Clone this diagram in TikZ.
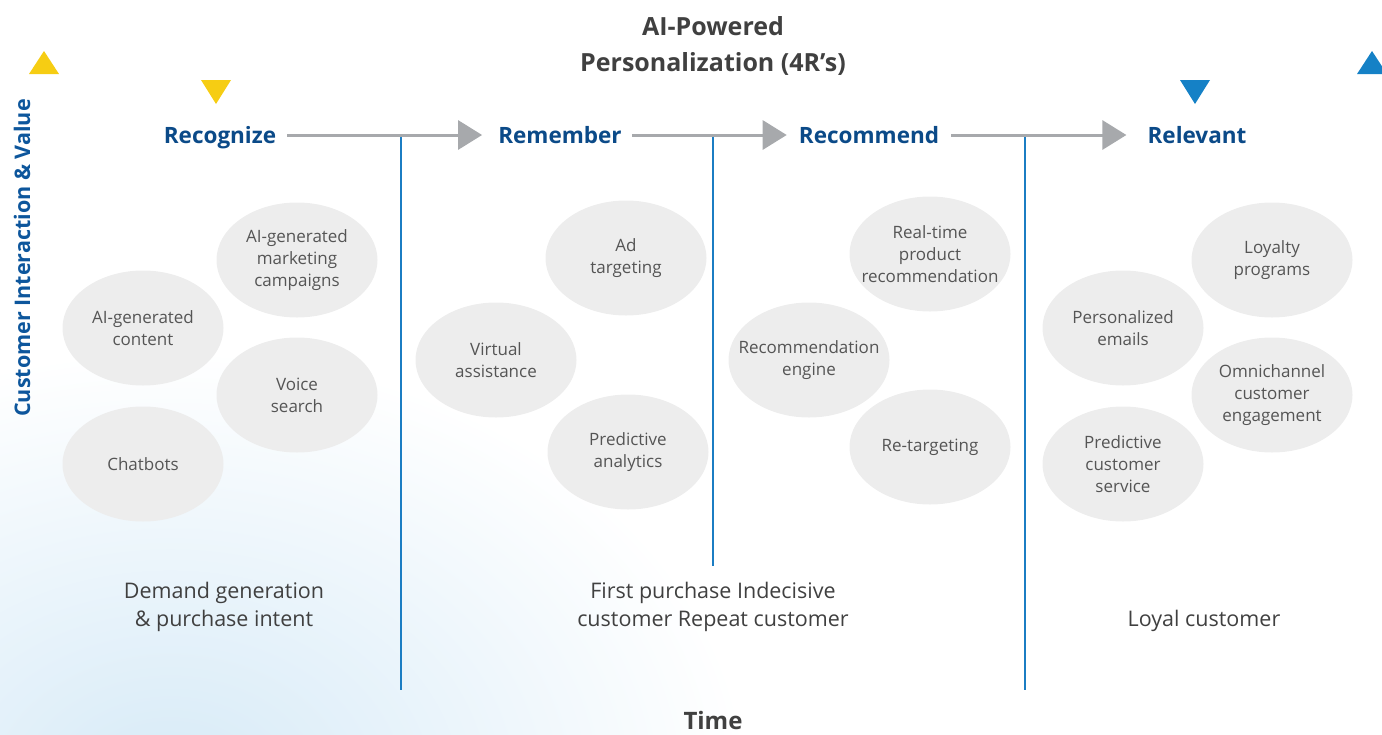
\documentclass[tikz,border=0pt]{standalone}
\usepackage{fontspec}
\setmainfont{Open Sans}
\usetikzlibrary{arrows.meta,shapes.geometric}
\definecolor{headblue}{HTML}{0B4A88}
\definecolor{axisblue}{HTML}{0D569C}
\definecolor{lineblue}{HTML}{1B7DC3}
\definecolor{triblue}{HTML}{1581C6}
\definecolor{triyellow}{HTML}{F6CD13}
\definecolor{arrgray}{HTML}{A7A9AC}
\definecolor{bubfill}{HTML}{EDEDED}
\definecolor{bubtext}{HTML}{555555}
\definecolor{titlegray}{HTML}{404040}
\definecolor{sky}{HTML}{D6EAF7}
\tikzset{
  head/.style={text=headblue,font=\fontsize{22.5}{26}\selectfont\bfseries,inner sep=0pt,anchor=base},
  bub/.style={ellipse,fill=bubfill,minimum width=161pt,minimum height=115pt,
    inner xsep=-30pt,inner ysep=-8pt,
    align=center,text=bubtext,font=\fontsize{17}{22}\selectfont},
  bottomtext/.style={align=center,text=titlegray,font=\fontsize{21.5}{28}\selectfont},
  arr/.style={draw=arrgray,line width=3pt,-{Triangle[length=24pt,width=29pt]}},
  vline/.style={draw=lineblue,line width=2.4pt},
}
\begin{document}
\begin{tikzpicture}[x=1pt,y=-1pt]
\useasboundingbox (0,0) rectangle (1382,734);
\begin{scope}
\clip (0,0) rectangle (1382,734);
\shade[inner color=sky,outer color=white] (170,790) ellipse (580 and 440);
% triangles
\fill[triyellow] (29,74) -- (59,74) -- (44,51) -- cycle;
\fill[triyellow] (201,80) -- (231,80) -- (216,104) -- cycle;
\fill[triblue] (1180,80) -- (1210,80) -- (1195,104) -- cycle;
\fill[triblue] (1357,74) -- (1387,74) -- (1372,51) -- cycle;
\end{scope}

% title
\node[align=center,text=titlegray,font=\fontsize{25}{36}\selectfont\bfseries] (title) at (713,46)
  {AI-Powered\\Personalization (4R’s)};
\node[rotate=90,text=axisblue,font=\fontsize{21.5}{24}\selectfont\bfseries] (yaxis) at (22,258)
  {Customer Interaction \& Value};
\node[text=titlegray,font=\fontsize{24}{28}\selectfont\bfseries] (time) at (713,720) {Time};

% headings
\node[head] (rec) at (220,143) {Recognize};
\node[head] (rem) at (560,143) {Remember};
\node[head] (rcm) at (869,143) {Recommend};
\node[head] (rel) at (1197,143) {Relevant};

% vertical separators
\coordinate (v1t) at (401,135); \coordinate (v1b) at (401,690);
\coordinate (v2t) at (713,135); \coordinate (v2b) at (713,566);
\coordinate (v3t) at (1025,135); \coordinate (v3b) at (1025,690);
\draw[vline] (v1t) -- (v1b);
\draw[vline] (v2t) -- (v2b);
\draw[vline] (v3t) -- (v3b);

\draw[arr,shorten <=11pt,shorten >=16pt] (rec.east |- v1t) -- (rem.west |- v1t);
\draw[arr,shorten <=10pt,shorten >=12pt] (rem.east |- v1t) -- (rcm.west |- v1t);
\draw[arr,shorten <=12pt,shorten >=21pt] (rcm.east |- v1t) -- (rel.west |- v1t);

% bubbles
\node[bub] (b1) at (297,260) {AI-generated\\marketing\\campaigns};
\node[bub] (b2) at (143,328) {AI-generated\\content};
\node[bub] (b3) at (297,395) {Voice\\search};
\node[bub] (b4) at (143,464) {Chatbots};

\node[bub] (b5) at (626,258) {Ad\\targeting};
\node[bub] (b6) at (496,360) {Virtual\\assistance};
\node[bub] (b7) at (628,452) {Predictive\\analytics};

\node[bub] (b8) at (930,254) {Real-time\\product\\recommendation};
\node[bub] (b9) at (809,360) {Recommendation\\engine};
\node[bub] (b10) at (930,447) {Re-targeting};

\node[bub] (b11) at (1272,260) {Loyalty\\programs};
\node[bub] (b12) at (1123,328) {Personalized\\emails};
\node[bub] (b13) at (1272,395) {Omnichannel\\customer\\engagement};
\node[bub] (b14) at (1123,464) {Predictive\\customer\\service};

% bottom texts
\node[bottomtext] (s1) at (224,607) {Demand generation\\\& purchase intent};
\node[bottomtext] (s2) at (713,607) {First purchase Indecisive\\customer Repeat customer};
\node[bottomtext] (s3) at (1204,621) {Loyal customer};
\end{tikzpicture}
\end{document}
